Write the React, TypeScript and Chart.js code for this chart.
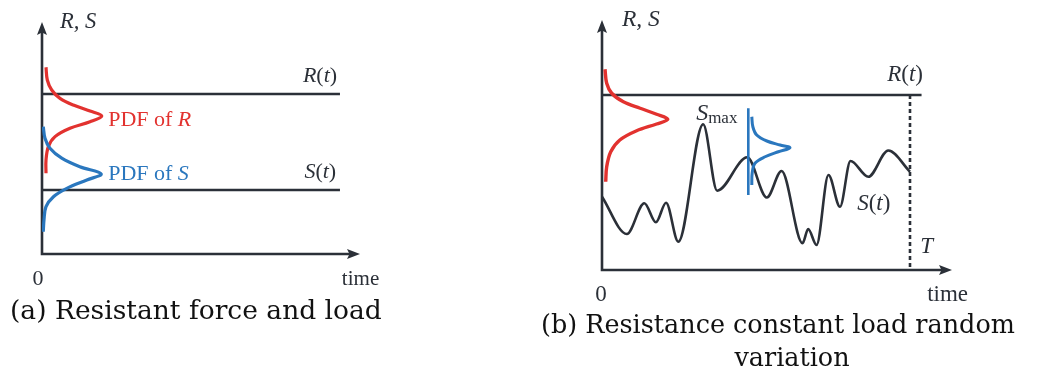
import React, { useEffect, useRef } from "react";
import { Chart, registerables } from "chart.js";

Chart.register(...registerables);

// ---------- Panel (a): resistant force and load (values in % of axis range) ----------
const A_R_LEVEL = 69;
const A_S_LEVEL = 27.6;
const A_LINE_END = 93.7;
const A_PDF_R_X = [1.26, 1.67, 3.05, 5.66, 9.84, 15.1, 18.8, 15.1, 8.8, 4.1, 2.0, 1.26, 1.26];
const A_PDF_R_Y = [80.5, 75.0, 70.7, 67.1, 64.2, 61.6, 59.5, 57.0, 54.2, 50.6, 46.3, 40.5, 34.8];
const A_PDF_S_X = [0.4, 0.94, 2.5, 6.2, 11.9, 18.6, 14.1, 7.8, 3.6, 1.26, 0.63, 0.4];
const A_PDF_S_Y = [54.9, 49.9, 45.6, 41.3, 37.6, 34.5, 31.9, 28.3, 24.7, 20.4, 14.7, 9.6];

// ---------- Panel (b): constant resistance, random load ----------
const B_R_LEVEL = 70;
const B_R_END = 91.3;
const B_T = 88;
const B_S_TIME = [0, 7.1, 12.1, 15.4, 18.3, 21.8, 28.9, 32.9, 41.5, 47.1, 51.3, 57.3, 58.9, 61.3, 64.7, 68.0, 71.0, 76.1, 81.8, 88.0];
const B_S_VALUE = [29.3, 14.4, 26.7, 19.1, 26.9, 11.3, 58.3, 31.7, 45.1, 29.0, 39.6, 10.7, 16.4, 10.0, 38.0, 25.3, 43.6, 37.3, 47.8, 39.3];
const B_PDF_R_X = [0.86, 1.34, 2.77, 6.09, 10.9, 15.6, 18.8, 15.6, 9.9, 5.1, 2.5, 1.34, 1.06];
const B_PDF_R_Y = [80.3, 74.7, 70.7, 67.3, 64.7, 62.3, 60.3, 58.4, 55.7, 52.0, 47.3, 41.3, 35.3];
const B_BAR_X = 41.8;
const B_BAR_Y = [64.7, 30];
const B_PDF_S_X = [42.8, 43.1, 44.2, 47.1, 50.9, 53.7, 50.4, 46.6, 43.7, 42.9, 42.8];
const B_PDF_S_Y = [61.3, 57.3, 54.0, 51.6, 50.0, 48.9, 47.3, 45.3, 42.7, 38.7, 34.0];

const DARK = "#2b3038";
const RED = "#e2322f";
const BLUE = "#2a77be";
const SERIF = '"Liberation Serif", "Times New Roman", serif';
const CAPTION_FONT = '"DejaVu Serif", serif';

type Run = [string, boolean, number?]; // text, italic, size override
type Label = { runs: Run[]; x: number; y: number; align: "left" | "right" | "center"; color: string; size: number; dy?: number[] };

const zip = (xs: number[], ys: number[]) => xs.map((x, i) => ({ x, y: ys[i] }));

const A_LABELS: Label[] = [
  { runs: [["R", true], [", ", true], ["S", true]], x: 5.66, y: 97.4, align: "left", color: DARK, size: 22.5 },
  { runs: [["R", true], ["(", false], ["t", true], [")", false]], x: 92.8, y: 74.1, align: "right", color: DARK, size: 22 },
  { runs: [["S", true], ["(", false], ["t", true], [")", false]], x: 92.5, y: 32.8, align: "right", color: DARK, size: 22 },
  { runs: [["PDF of ", false], ["R", true]], x: 20.8, y: 55.2, align: "left", color: RED, size: 22 },
  { runs: [["PDF of ", false], ["S", true]], x: 20.8, y: 31.9, align: "left", color: BLUE, size: 22 },
  { runs: [["0", false]], x: -1.26, y: -13.5, align: "center", color: DARK, size: 22 },
  { runs: [["time", false]], x: 94.3, y: -13.5, align: "left", color: DARK, size: 21 },
];

const B_LABELS: Label[] = [
  { runs: [["R", true], [", ", true], ["S", true]], x: 5.7, y: 97.6, align: "left", color: DARK, size: 23.5 },
  { runs: [["R", true], ["(", false], ["t", true], [")", false]], x: 91.7, y: 75.6, align: "right", color: DARK, size: 23 },
  { runs: [["S", true], ["(", false], ["t", true], [")", false]], x: 72.9, y: 24, align: "left", color: DARK, size: 23 },
  { runs: [["T", true]], x: 90.9, y: 6.8, align: "left", color: DARK, size: 23 },
  { runs: [["0", false]], x: -0.3, y: -12.4, align: "center", color: DARK, size: 23 },
  { runs: [["time", false]], x: 92.9, y: -12.4, align: "left", color: DARK, size: 23 },
  { runs: [["S", true], ["max", false, 17]], x: 26.9, y: 60, align: "left", color: DARK, size: 24, dy: [0, 3] },
];

type Caption = { lines: string[]; left: number; width: number; baseline: number; lineGap: number; center?: number };

function drawRuns(ctx: CanvasRenderingContext2D, l: Label, px: number, py: number) {
  const fonts = l.runs.map(([, it, s]) => `${it ? "italic " : ""}${s ?? l.size}px ${SERIF}`);
  const widths = l.runs.map(([t], i) => {
    ctx.font = fonts[i];
    return ctx.measureText(t).width;
  });
  const total = widths.reduce((a, b) => a + b, 0);
  let x = l.align === "left" ? px : l.align === "right" ? px - total : px - total / 2;
  ctx.fillStyle = l.color;
  ctx.textAlign = "left";
  ctx.textBaseline = "alphabetic";
  l.runs.forEach(([t], i) => {
    ctx.font = fonts[i];
    ctx.fillText(t, x, py + (l.dy ? l.dy[i] : 0));
    x += widths[i];
  });
}

function decor(labels: Label[], caption: Caption) {
  return {
    id: "decor",
    beforeDatasetsDraw(chart: any) {
      const ctx: CanvasRenderingContext2D = chart.ctx;
      const { left, right, top, bottom } = chart.chartArea;
      ctx.save();
      ctx.strokeStyle = DARK;
      ctx.fillStyle = DARK;
      ctx.lineWidth = 2.6;
      ctx.beginPath();
      ctx.moveTo(left, bottom + 1.3);
      ctx.lineTo(left, top + 8);
      ctx.moveTo(left - 1.3, bottom);
      ctx.lineTo(right - 8, bottom);
      ctx.stroke();
      ctx.beginPath();
      ctx.moveTo(left, top);
      ctx.lineTo(left - 5, top + 13);
      ctx.lineTo(left, top + 10.5);
      ctx.lineTo(left + 5, top + 13);
      ctx.closePath();
      ctx.fill();
      ctx.beginPath();
      ctx.moveTo(right, bottom);
      ctx.lineTo(right - 13, bottom - 5);
      ctx.lineTo(right - 10.5, bottom);
      ctx.lineTo(right - 13, bottom + 5);
      ctx.closePath();
      ctx.fill();
      ctx.restore();
    },
    afterDatasetsDraw(chart: any) {
      const ctx: CanvasRenderingContext2D = chart.ctx;
      const xs = chart.scales.x;
      const ys = chart.scales.y;
      ctx.save();
      labels.forEach((l) => drawRuns(ctx, l, xs.getPixelForValue(l.x), ys.getPixelForValue(l.y)));
      // caption
      ctx.font = `100px ${CAPTION_FONT}`;
      const w = ctx.measureText(caption.lines[0]).width;
      const size = (100 * caption.width) / w;
      ctx.font = `${size}px ${CAPTION_FONT}`;
      ctx.fillStyle = "#111";
      ctx.textBaseline = "alphabetic";
      caption.lines.forEach((line, i) => {
        if (i === 0) {
          ctx.textAlign = "left";
          ctx.fillText(line, caption.left, caption.baseline);
        } else {
          ctx.textAlign = "center";
          ctx.fillText(line, caption.center ?? caption.left + caption.width / 2, caption.baseline + i * caption.lineGap);
        }
      });
      ctx.restore();
    },
  };
}

const lineDs = (data: any[], color: string, width: number, extra: any = {}) => ({
  data,
  borderColor: color,
  borderWidth: width,
  pointRadius: 0,
  fill: false,
  tension: 0,
  ...extra,
});

function baseOptions(padding: any) {
  return {
    animation: false as const,
    responsive: false,
    events: [],
    layout: { padding },
    plugins: { legend: { display: false }, tooltip: { enabled: false } },
    scales: {
      x: { type: "linear" as const, min: 0, max: 100, display: false },
      y: { type: "linear" as const, min: 0, max: 100, display: false },
    },
  };
}

export default function App() {
  const refA = useRef<HTMLCanvasElement>(null);
  const refB = useRef<HTMLCanvasElement>(null);

  useEffect(() => {
    const chartA = new Chart(refA.current!, {
      type: "line",
      data: {
        datasets: [
          lineDs(zip(A_PDF_S_X, A_PDF_S_Y), BLUE, 3.2, { tension: 0.35 }),
          lineDs(zip(A_PDF_R_X, A_PDF_R_Y), RED, 3.2, { tension: 0.35 }),
          lineDs([{ x: 0, y: A_R_LEVEL }, { x: A_LINE_END, y: A_R_LEVEL }], DARK, 2.5),
          lineDs([{ x: 0, y: A_S_LEVEL }, { x: A_LINE_END, y: A_S_LEVEL }], DARK, 2.5),
        ],
      },
      options: baseOptions({ left: 42, right: 163, top: 22, bottom: 124 }) as any,
      plugins: [
        decor(A_LABELS, { lines: ["(a) Resistant force and load"], left: 10, width: 372, baseline: 319, lineGap: 0 }),
      ],
    });
    const chartB = new Chart(refB.current!, {
      type: "line",
      data: {
        datasets: [
          lineDs([{ x: B_BAR_X, y: B_BAR_Y[0] }, { x: B_BAR_X, y: B_BAR_Y[1] }], BLUE, 2.6),
          lineDs(zip(B_PDF_S_X, B_PDF_S_Y), BLUE, 3, { tension: 0.35 }),
          lineDs(zip(B_PDF_R_X, B_PDF_R_Y), RED, 3.4, { tension: 0.35 }),
          lineDs(zip(B_S_TIME, B_S_VALUE), DARK, 2.6, { cubicInterpolationMode: "monotone" }),
          lineDs([{ x: B_T, y: B_R_LEVEL }, { x: B_T, y: 0 }], DARK, 2.6, { borderDash: [4, 3] }),
          lineDs([{ x: 0, y: B_R_LEVEL }, { x: B_R_END, y: B_R_LEVEL }], DARK, 2.5),
        ],
      },
      options: baseOptions({ left: 79, right: 95, top: 20, bottom: 108 }) as any,
      plugins: [
        decor(B_LABELS, {
          lines: ["(b) Resistance constant load random", "variation"],
          left: 18,
          width: 474,
          baseline: 333,
          lineGap: 33,
          center: 269,
        }),
      ],
    });
    return () => {
      chartA.destroy();
      chartB.destroy();
    };
  }, []);

  return (
    <div style={{ position: "absolute", left: 0, top: 0, width: 1047, height: 378, background: "#fff" }}>
      <canvas ref={refA} width={523} height={378} style={{ position: "absolute", left: 0, top: 0 }} />
      <canvas ref={refB} width={524} height={378} style={{ position: "absolute", left: 523, top: 0 }} />
    </div>
  );
}
